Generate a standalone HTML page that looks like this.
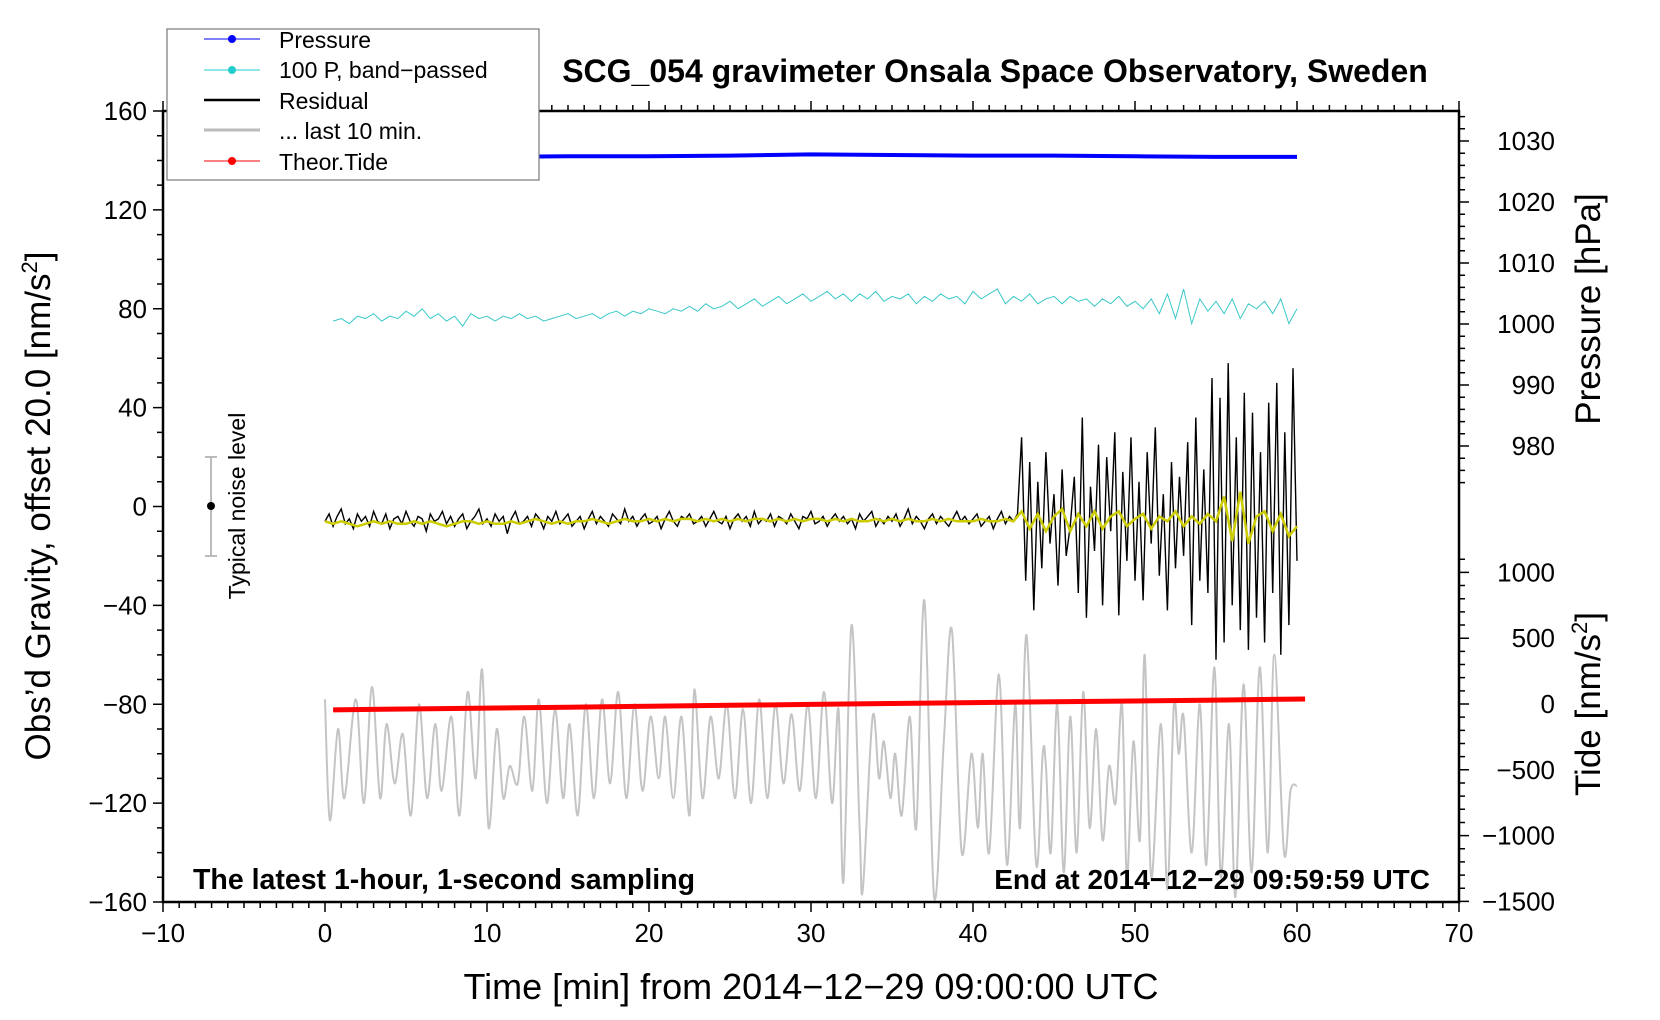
<!DOCTYPE html>
<html><head><meta charset="utf-8"><style>
html,body{margin:0;padding:0;background:#fff;}
svg{display:block;font-family:"Liberation Sans",sans-serif;}
</style></head><body>
<svg id="chart" width="1660" height="1020" viewBox="0 0 1660 1020" xmlns="http://www.w3.org/2000/svg">
<rect x="0" y="0" width="1660" height="1020" fill="#fff"/>
<g id="series"></g>
<g id="axes"></g>
<text x="995" y="82" text-anchor="middle" font-size="32" font-weight="bold">SCG_054 gravimeter Onsala Space Observatory, Sweden</text>
<text x="193" y="889" font-size="28.5" font-weight="bold">The latest 1-hour, 1-second sampling</text>
<text x="1430" y="889" text-anchor="end" font-size="28" font-weight="bold">End at 2014−12−29 09:59:59 UTC</text>
<text x="811" y="999" text-anchor="middle" font-size="36">Time [min] from 2014−12−29 09:00:00 UTC</text>
<text transform="translate(50,506) rotate(-90)" text-anchor="middle" font-size="35">Obs’d Gravity, offset 20.0 [nm/s<tspan font-size="22" dy="-13">2</tspan><tspan dy="13">]</tspan></text>
<text transform="translate(1600,309) rotate(-90)" text-anchor="middle" font-size="35">Pressure [hPa]</text>
<text transform="translate(1600,704) rotate(-90)" text-anchor="middle" font-size="35">Tide [nm/s<tspan font-size="22" dy="-13">2</tspan><tspan dy="13">]</tspan></text>
<g>
<line x1="211" y1="457" x2="211" y2="556" stroke="#bbb" stroke-width="2"/>
<line x1="205" y1="457" x2="217" y2="457" stroke="#bbb" stroke-width="2"/>
<line x1="205" y1="556" x2="217" y2="556" stroke="#bbb" stroke-width="2"/>
<circle cx="211" cy="506" r="4" fill="#000"/>
<text transform="translate(245,506) rotate(-90)" text-anchor="middle" font-size="23">Typical noise level</text>
</g>
<g>
<rect x="167" y="29" width="372" height="151" fill="#fff" stroke="#777" stroke-width="1.2"/>
<g><line x1="204" y1="39" x2="260" y2="39" stroke="#00f" stroke-width="1"/><circle cx="232" cy="39" r="4" fill="#00f"/><text x="279" y="48" font-size="23">Pressure</text></g>
<g><line x1="204" y1="70" x2="260" y2="70" stroke="#2cc" stroke-width="1"/><circle cx="232" cy="70" r="4" fill="#2cc"/><text x="279" y="78" font-size="23">100 P, band−passed</text></g>
<g><line x1="204" y1="100" x2="260" y2="100" stroke="#000" stroke-width="2.5"/><text x="279" y="109" font-size="23">Residual</text></g>
<g><line x1="204" y1="130" x2="260" y2="130" stroke="#bbb" stroke-width="3"/><text x="279" y="139" font-size="23">... last 10 min.</text></g>
<g><line x1="204" y1="161" x2="260" y2="161" stroke="#f00" stroke-width="1"/><circle cx="232" cy="161" r="4" fill="#f00"/><text x="279" y="170" font-size="23">Theor.Tide</text></g>
</g>
</svg>
<script>
const L=163,R=1459,T=111,B=902;
const xTicks=[-10,0,10,20,30,40,50,60,70];
const yTicks=[-160,-120,-80,-40,0,40,80,120,160];
const pTicks=[980,990,1000,1010,1020,1030];
const tTicks=[-1500,-1000,-500,0,500,1000];
const resStep=0.25;
const residual=[-6,-3,-8,-4,-1,-7,-5,-9,-3,-6,-4,-8,-2,-6,-7,-3,-9,-5,-4,-7,-2,-6,-8,-4,-5,-10,-3,-6,-5,-2,-7,-4,-8,-5,-3,-9,-6,-4,-1,-7,-5,-8,-3,-6,-4,-11,-5,-2,-7,-6,-4,-8,-3,-5,-9,-4,-6,-2,-7,-5,-3,-8,-6,-4,-9,-5,-2,-7,-4,-6,-8,-3,-5,-7,-1,-6,-4,-8,-5,-3,-7,-6,-4,-9,-5,-2,-6,-8,-4,-5,-3,-7,-6,-4,-8,-5,-2,-6,-7,-4,-9,-5,-3,-6,-4,-8,-2,-7,-5,-6,-3,-8,-4,-5,-7,-3,-6,-9,-4,-5,-2,-7,-6,-4,-8,-5,-3,-6,-4,-7,-5,-9,-3,-6,-4,-2,-8,-5,-7,-4,-6,-3,-8,-5,-1,-7,-4,-6,-9,-5,-3,-7,-4,-6,-8,-5,-2,-6,-4,-7,-5,-3,-8,-6,-4,-9,-5,-2,-7,-4,-6,-3,
28,-30,18,-42,10,-25,22,-15,5,-32,15,-20,-8,12,-35,36,-45,8,-18,25,-40,20,-10,30,-44,14,-22,28,-30,10,-38,22,-15,32,-28,5,-42,18,-25,12,-20,26,-48,36,-30,15,-35,52,-62,44,-55,58,-40,28,-50,46,-58,38,-45,22,-55,42,-35,50,-60,30,-48,56,-22];
const smoothStep=0.5;
const smoothed=[-6,-7,-6,-7,-8,-7,-6,-7,-6,-7,-7,-6,-7,-6,-7,-8,-7,-6,-6,-7,-6,-7,-7,-6,-7,-6,-5,-6,-7,-6,-7,-6,-6,-5,-6,-7,-6,-5,-6,-6,-5,-6,-5,-6,-5,-5,-6,-5,-6,-5,-6,-5,-6,-5,-5,-6,-5,-6,-5,-6,-5,-5,-6,-5,-6,-5,-6,-6,-5,-6,-5,-6,-5,-6,-6,-5,-6,-5,-6,-6,-6,-5,-6,-6,-5,-6,
-2,-9,-3,-10,-4,-1,-10,-3,-8,-2,-9,-4,-2,-8,-5,-3,-9,-4,-6,-2,-8,-4,-7,-3,-6,4,-14,6,-15,-4,-2,-10,-3,-12,-8];
const bandStart=0.5, bandStep=0.5;
const bandPassed=[75,76,74,77,76,78,75,77,76,79,77,80,76,78,75,77,73,78,76,77,75,77,76,78,76,77,75,76,77,78,76,77,78,76,78,79,77,79,78,80,79,78,80,79,81,79,82,80,81,83,80,82,84,81,83,85,82,84,86,83,85,87,84,86,83,86,84,87,83,85,84,86,82,85,83,86,84,85,82,87,84,86,88,82,85,83,86,82,84,85,82,85,83,84,81,84,82,85,81,83,80,84,78,86,76,88,74,84,79,83,78,84,76,82,80,83,78,84,74,80];
const gTimes=[0,0.3,0.8,1.2,1.9,2.4,2.9,3.4,3.8,4.3,4.8,5.3,5.8,6.3,6.8,7.2,7.8,8.3,8.8,9.3,9.7,10.1,10.6,11.0,11.4,11.9,12.3,12.8,13.2,13.7,14.2,14.7,15.1,15.6,16.1,16.6,17.1,17.6,18.1,18.6,19.1,19.6,20.1,20.6,21.0,21.5,22.0,22.5,22.8,23.3,23.8,24.3,24.8,25.3,25.8,26.3,26.8,27.3,27.8,28.3,28.8,29.3,29.8,30.3,30.8,31.3,31.7,32.0,32.5,33.0,33.2,33.8,34.2,34.5,34.9,35.2,35.6,36.1,36.5,37.0,37.6,38.2,38.7,39.3,39.9,40.3,40.6,41.0,41.6,42.1,42.6,42.9,43.3,43.9,44.3,44.5,44.8,45.2,45.6,46.0,46.4,46.8,47.2,47.6,48.0,48.4,48.8,49.2,49.5,49.9,50.3,50.6,51.0,51.6,52.0,52.4,52.7,53.0,53.5,54.0,54.4,54.9,55.3,55.8,56.2,56.7,57.2,57.7,58.2,58.6,59.2,59.6,60.0];
const gValues=[-78,-127,-90,-118,-78,-120,-73,-118,-88,-112,-92,-125,-80,-118,-88,-115,-85,-125,-75,-110,-66,-130,-90,-118,-105,-112,-85,-115,-78,-120,-82,-118,-88,-125,-80,-118,-78,-112,-75,-118,-80,-115,-85,-110,-85,-118,-85,-125,-74,-118,-85,-110,-80,-118,-82,-120,-78,-118,-80,-112,-84,-115,-80,-118,-75,-120,-82,-152,-48,-130,-155,-85,-110,-95,-118,-100,-125,-85,-130,-38,-158,-95,-50,-140,-100,-130,-100,-140,-68,-145,-80,-130,-52,-145,-100,-105,-140,-80,-148,-85,-140,-75,-130,-90,-135,-105,-120,-80,-150,-95,-135,-60,-150,-88,-155,-80,-100,-85,-140,-80,-145,-65,-150,-88,-158,-72,-148,-65,-140,-60,-140,-115,-113];
const pTimes=[0.5,5,10,15,20,25,30,35,40,45,50,55,60];
const pressure=[1027.3,1027.4,1027.4,1027.5,1027.5,1027.6,1027.8,1027.7,1027.6,1027.6,1027.5,1027.4,1027.4];
const tideTimes=[0.5,5,10,15,20,25,30,35,40,45,50,55,60.5];
const tide=[-45,-38,-31,-24,-17,-10,-3,4,11,17,23,30,38];

const NS="http://www.w3.org/2000/svg";
const xs=m=>L+(m+10)*(R-L)/80;
const ys=v=>B-(v+160)*(B-T)/320;
const yp=p=>141+(1030-p)*6.1;
const yt=t=>704-t*0.1316;
const series=document.getElementById('series'), axes=document.getElementById('axes');
function mk(tag,attrs,parent){const e=document.createElementNS(NS,tag);for(const k in attrs)e.setAttribute(k,attrs[k]);parent.appendChild(e);return e;}
function poly(pts){return pts.map((p,i)=>(i?'L':'M')+p[0].toFixed(1)+','+p[1].toFixed(1)).join('');}

let gp=gTimes.map((t,i)=>[xs(t),ys(gValues[i])]);
let d='M'+gp[0][0]+','+gp[0][1];
for(let i=0;i<gp.length-1;i++){const p0=gp[Math.max(0,i-1)],p1=gp[i],p2=gp[i+1],p3=gp[Math.min(gp.length-1,i+2)];
d+='C'+(p1[0]+(p2[0]-p0[0])/6).toFixed(1)+','+(p1[1]+(p2[1]-p0[1])/6).toFixed(1)+' '+(p2[0]-(p3[0]-p1[0])/6).toFixed(1)+','+(p2[1]-(p3[1]-p1[1])/6).toFixed(1)+' '+p2[0].toFixed(1)+','+p2[1].toFixed(1);}
const g=mk('path',{d:d,fill:'none',stroke:'#c4c4c4','stroke-width':2},series);



const rd=mk('path',{d:poly(tideTimes.map((t,i)=>[xs(t),yt(tide[i])])),fill:'none',stroke:'#f00','stroke-width':5},series);



const pr=mk('path',{d:poly(pTimes.map((t,i)=>[xs(t),yp(pressure[i])])),fill:'none',stroke:'#00f','stroke-width':4},series);



const cy=mk('path',{d:poly(bandPassed.map((v,i)=>[xs(bandStart+i*bandStep),ys(v)])),fill:'none',stroke:'#3cc8c8','stroke-width':1},series);



const bk=mk('path',{d:poly(residual.map((v,i)=>[xs(i*resStep),ys(v)])),fill:'none',stroke:'#000','stroke-width':1.4},series);



const yl=mk('path',{d:poly(smoothed.map((v,i)=>[xs(i*smoothStep),ys(v)])),fill:'none',stroke:'#cccc00','stroke-width':2.5},series);



const fr=mk('rect',{x:L,y:T,width:R-L,height:B-T,fill:'none',stroke:'#000','stroke-width':2.5},axes);


let tk='';
for(let m=-10;m<=70;m++){const x=xs(m),len=(m%10===0)?10:6;tk+=`M${x},${B}v${len}M${x},${T}v${-len}`;}
for(let v=-160;v<=160;v+=10){const y=ys(v),len=(v%40===0)?10:6;tk+=`M${L},${y}h${-len}`;}
for(let p=974;p<=1034;p+=2){const y=yp(p);if(y<T)continue;tk+=`M${R},${y}h${p%10===0?10:6}`;}
for(let t=-1500;t<=1100;t+=100){tk+=`M${R},${yt(t)}h${t%500===0?10:6}`;}
const tp=mk('path',{d:tk,stroke:'#000','stroke-width':1.5,fill:'none'},axes);


xTicks.forEach(m=>{const e=mk('text',{x:xs(m),y:B+40,'text-anchor':'middle','font-size':26},axes);e.textContent=(m<0?'−'+(-m):m);

});
yTicks.forEach(v=>{const e=mk('text',{x:L-16,y:ys(v)+9,'text-anchor':'end','font-size':26},axes);e.textContent=(v<0?'−'+(-v):v);

});
pTicks.forEach(p=>{const e=mk('text',{x:R+96,y:yp(p)+9,'text-anchor':'end','font-size':26},axes);e.textContent=p;

});
tTicks.forEach(t=>{const e=mk('text',{x:R+96,y:yt(t)+9,'text-anchor':'end','font-size':26},axes);e.textContent=(t<0?'−'+(-t):t);

});
</script>
</body></html>
